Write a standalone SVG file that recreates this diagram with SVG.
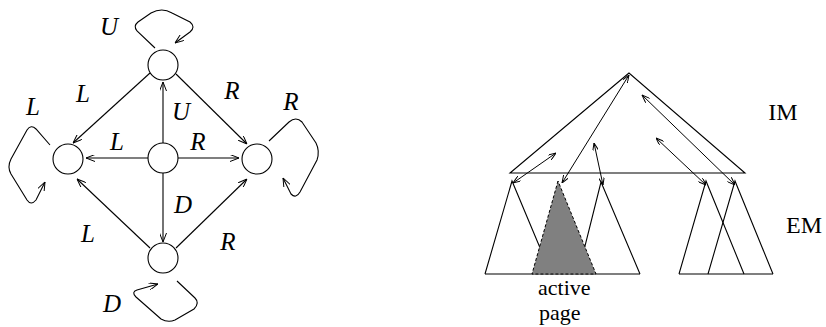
<svg xmlns="http://www.w3.org/2000/svg" width="826" height="327" viewBox="0 0 826 327">
<defs>
<marker id="ah" viewBox="0 0 9 7" refX="9" refY="3.5" markerWidth="9" markerHeight="7" markerUnits="userSpaceOnUse" orient="auto-start-reverse">
<path d="M0,0 L9,3.5 L0,7" fill="none" stroke="#000" stroke-width="1"/>
</marker>
<marker id="sh" viewBox="0 0 8 6" refX="8" refY="3" markerWidth="8" markerHeight="6" markerUnits="userSpaceOnUse" orient="auto-start-reverse">
<path d="M0,0 L8,3 L0,6" fill="none" stroke="#000" stroke-width="1"/>
</marker>
</defs>
<style>
.n{fill:#fff;stroke:#000;stroke-width:1.1}
.e{fill:none;stroke:#000;stroke-width:1.1;marker-end:url(#ah)}
.d{fill:none;stroke:#000;stroke-width:1;marker-start:url(#sh);marker-end:url(#sh)}
.t{fill:none;stroke:#000;stroke-width:1.1}
.li{font-style:italic;font-size:25px;text-anchor:middle}
.lb{font-size:24px}
</style>
<g id="connectors">
<line class="e" x1="148" y1="158" x2="86" y2="158"/>
<line class="e" x1="178" y1="158" x2="239" y2="158"/>
<line class="e" x1="163" y1="143" x2="163" y2="82"/>
<line class="e" x1="163" y1="173" x2="163" y2="242"/>
<line class="e" x1="150" y1="73" x2="73" y2="143"/>
<line class="e" x1="176" y1="74" x2="247" y2="144"/>
<line class="e" x1="150" y1="248" x2="77" y2="179"/>
<line class="e" x1="176" y1="248" x2="247" y2="179"/>
<path class="e" d="M155,48 L137,31 Q133,26 138,22 L151,13 Q162,7 172,13 L190,22 Q196,27 190,32 L175,43"/>
<path class="e" d="M50,145 L36,129 Q31,124 27,130 L11,159 Q7,167 11,174 L27,200 Q31,206 36,200 L45,182"/>
<path class="e" d="M269,141 L289,122 Q296,116 302,122 L316,143 Q320,151 317,160 L300,192 Q296,199 291,194 L283,178"/>
<path class="e" d="M177,281 L195,298 Q200,303 194,309 L175,320 Q168,323 161,319 L136,297 Q131,292 137,290 L158,284"/>
</g>
<g id="n-top"><circle class="n" cx="163" cy="65" r="15"/></g>
<g id="n-center"><circle class="n" cx="163" cy="158" r="15"/></g>
<g id="n-left"><circle class="n" cx="68" cy="159" r="15"/></g>
<g id="n-right"><circle class="n" cx="257" cy="159" r="15"/></g>
<g id="n-bottom"><circle class="n" cx="163" cy="258" r="15"/></g>
<g id="labels" font-family="Liberation Serif, DejaVu Serif, serif">
<text class="li" x="109" y="35">U</text>
<text class="li" x="33" y="115">L</text>
<text class="li" x="83" y="102">L</text>
<text class="li" x="232" y="99">R</text>
<text class="li" x="291" y="110">R</text>
<text class="li" x="181" y="120">U</text>
<text class="li" x="117" y="150">L</text>
<text class="li" x="198" y="150">R</text>
<text class="li" x="183" y="213">D</text>
<text class="li" x="88" y="242">L</text>
<text class="li" x="228" y="250">R</text>
<text class="li" x="112" y="312">D</text>
</g>
<g id="im-tree"><polygon class="t" points="629,73 510,173 745,173"/></g>
<g id="em-trees">
<polyline class="t" points="485,274 512,181 551,274"/>
<polyline class="t" points="578,274 601,182 640,274"/>
<line class="t" x1="485" y1="274" x2="640" y2="274"/>
<polyline class="t" points="679,274 706,181 744,274"/>
<polyline class="t" points="708,274 735,181 773,274"/>
<line class="t" x1="679" y1="274" x2="773" y2="274"/>
</g>
<g id="active-page"><polygon points="558,181 532,274 596,274" fill="#808080" stroke="#000" stroke-width="1" stroke-dasharray="3,2"/></g>
<g id="transfers">
<line class="d" x1="556" y1="153" x2="513" y2="183"/>
<line class="d" x1="629" y1="75" x2="562" y2="183"/>
<line class="d" x1="594" y1="143" x2="603" y2="185"/>
<line class="d" x1="656" y1="138" x2="706" y2="185"/>
<line class="d" x1="642" y1="95" x2="735" y2="185"/>
</g>
<g id="texts" font-family="Liberation Serif, DejaVu Serif, serif">
<text class="lb" x="783" y="120" text-anchor="middle">IM</text>
<text class="lb" x="804" y="233" text-anchor="middle">EM</text>
<text class="lb" x="538" y="295" style="font-size:22px">active</text>
<text class="lb" x="539" y="320" style="font-size:22px">page</text>
</g>
</svg>
